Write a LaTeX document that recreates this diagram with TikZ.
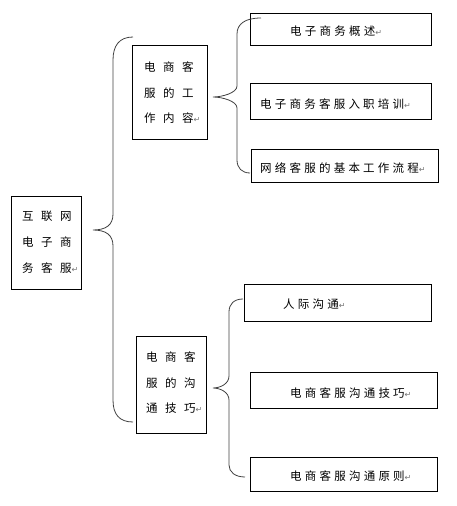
\documentclass[tikz,border=0pt]{standalone}
\usepackage{fontspec}
\newfontfamily\cjkh[LetterSpace=28]{Noto Sans CJK SC}
\newfontfamily\cjkv{Noto Sans CJK SC}
\newfontfamily\djv{DejaVu Sans}
\newcommand\pmark{{\djv\fontsize{8}{8}\selectfont\color{black!55}↵}}
\newcommand\vs{\hspace{7.5pt}}
\begin{document}
\begin{tikzpicture}[x=1pt,y=-1pt,
  box/.style={draw, line width=0.8pt, rectangle, inner sep=0pt},
  txt/.style={anchor=west, inner sep=0pt, font=\cjkh\fontsize{11.5}{12}\selectfont},
  vtxt/.style={anchor=west, inner sep=0pt, font=\cjkv\fontsize{11.5}{12}\selectfont},
  brace/.style={draw=black!75, line width=0.8pt}]
\useasboundingbox (0,0) rectangle (457,506);
% boxes
\node[box, minimum width=70pt, minimum height=93pt] (root) at (46,242.5) {};
\node[box, minimum width=75pt, minimum height=94pt] (b1) at (169.5,92) {};
\node[box, minimum width=70pt, minimum height=97pt] (b2) at (171,384.5) {};
\node[box, minimum width=181pt, minimum height=32pt] (c1) at (340.5,29) {};
\node[box, minimum width=181pt, minimum height=36pt] (c2) at (340.5,101) {};
\node[box, minimum width=187pt, minimum height=33pt] (c3) at (344.5,165.5) {};
\node[box, minimum width=187pt, minimum height=37pt] (d1) at (337.5,302.5) {};
\node[box, minimum width=187pt, minimum height=36pt] (d2) at (343.5,390) {};
\node[box, minimum width=187pt, minimum height=34pt] (d3) at (343.5,474) {};
% vertical texts
\node[vtxt] (r1) at (22,216) {互\vs 联\vs 网};
\node[vtxt] (r2) at (22,242) {电\vs 子\vs 商};
\node[vtxt] (r3) at (22,268) {务\vs 客\vs 服\pmark};
\node[vtxt] (p1) at (144,67) {电\vs 商\vs 客};
\node[vtxt] (p2) at (144,93) {服\vs 的\vs 工};
\node[vtxt] (p3) at (144,118) {作\vs 内\vs 容\pmark};
\node[vtxt] (q1) at (146,357) {电\vs 商\vs 客};
\node[vtxt] (q2) at (146,383) {服\vs 的\vs 沟};
\node[vtxt] (q3) at (146,408) {通\vs 技\vs 巧\pmark};
% horizontal texts
\node[txt] (tc1) at (290,31) {电子商务概述\pmark};
\node[txt] (tc2) at (260,104) {电子商务客服入职培训\pmark};
\node[txt] (tc3) at (260,168) {网络客服的基本工作流程\pmark};
\node[txt] (td1) at (283,304) {人际沟通\pmark};
\node[txt] (td2) at (290,393) {电商客服沟通技巧\pmark};
\node[txt] (td3) at (290,476) {电商客服沟通原则\pmark};
% brace anchor coordinates
\coordinate (A1) at (133,37);
\coordinate (T1) at (93,230);
\coordinate (A2) at (133,422);
\coordinate (B1) at (261,18);
\coordinate (T2) at (213,97);
\coordinate (B2) at (250,173);
\coordinate (C1) at (243,299);
\coordinate (T3) at (213,388);
\coordinate (C2) at (245,477);
% braces
\draw[brace] (A1) .. controls (119,37) and (113,46) .. (113,60) -- (113,214)
  .. controls (113,225) and (106,230) .. (T1)
  .. controls (106,230) and (113,235) .. (113,246) -- (113,400)
  .. controls (113,414) and (119,422) .. (A2);
\draw[brace] (B1) .. controls (245,18) and (237,24) .. (237,34) -- (237,86)
  .. controls (237,93) and (222,97) .. (T2)
  .. controls (222,97) and (237,101) .. (237,108) -- (237,160)
  .. controls (237,168) and (242,173) .. (B2);
\draw[brace] (C1) .. controls (234,299) and (229,304) .. (229,312) -- (229,376)
  .. controls (229,384) and (220,388) .. (T3)
  .. controls (220,388) and (229,392) .. (229,400) -- (229,465)
  .. controls (229,472) and (235,477) .. (C2);
\end{tikzpicture}
\end{document}
